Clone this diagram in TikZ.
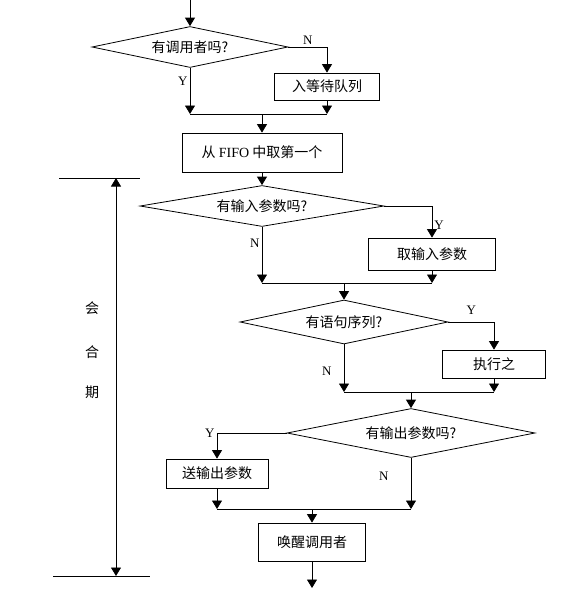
\documentclass[tikz,border=0pt]{standalone}
\usepackage{fontspec}
\setmainfont{Liberation Serif}
\newfontfamily\cjk{Noto Sans CJK SC}
\usetikzlibrary{shapes.geometric, arrows.meta, positioning}

\begin{document}
\begin{tikzpicture}[x=1pt, y=-1pt, line width=0.8pt,
    flow/.style={-{Triangle[width=10pt,length=8.5pt]}},
    proc/.style={draw, rectangle, inner sep=0pt, font=\cjk\fontsize{14}{16}\selectfont},
    cond/.style={draw, diamond, aspect=5, inner sep=0pt, font=\cjk\fontsize{14}{16}\selectfont},
    yn/.style={font=\fontsize{13}{15}\selectfont, inner sep=2pt}]
    \useasboundingbox (0,0) rectangle (583,598);

    % Steps
    \node[cond, minimum width=196pt, minimum height=41pt] (Q1) at (190,47) {有调用者吗?};
    \node[proc, minimum width=105pt, minimum height=27pt] (WQ) at (327,86.5) {入等待队列};
    \node[proc, minimum width=160pt, minimum height=39pt] (FF) at (262,152.5) {从 {\rmfamily FIFO} 中取第一个};
    \node[cond, minimum width=244pt, minimum height=41pt] (Q2) at (262,206) {有输入参数吗?};
    \node[proc, minimum width=127pt, minimum height=32pt] (IN) at (432,254) {取输入参数};
    \node[cond, minimum width=208pt, minimum height=44pt] (Q3) at (344,322) {有语句序列?};
    \node[proc, minimum width=103pt, minimum height=28pt] (EX) at (494,364) {执行之};
    \node[cond, minimum width=248pt, minimum height=49pt] (Q4) at (411,433) {有输出参数吗?};
    \node[proc, minimum width=102pt, minimum height=29pt] (OUT) at (217,473.5) {送输出参数};
    \node[proc, minimum width=107pt, minimum height=38pt] (WK) at (312,542) {唤醒调用者};

    % Join points
    \coordinate (top) at (190,0);
    \coordinate (m1) at (262,114);
    \coordinate (m2) at (344,283);
    \coordinate (m3) at (411,392);
    \coordinate (m4) at (312,509);
    \coordinate (bot) at (312,588);

    % Transitions
    \draw[flow] (top) -- (Q1.north);
    \draw[flow] (Q1.east) -| (WQ.north) node[yn, pos=0.25, above] {N};
    \draw[flow] (Q1.south) -- (Q1.south |- m1) node[yn, pos=0.28, left] {Y};
    \draw[flow] (WQ.south) -- (WQ.south |- m1);
    \draw (Q1.south |- m1) -- (WQ.south |- m1);
    \draw[flow] (m1) -- (FF.north);

    \draw[flow] (FF.south) -- (Q2.north);
    \draw[flow] (Q2.east) -| (IN.north) node[yn, pos=0.8, right] {Y};
    \draw[flow] (Q2.south) -- (Q2.south |- m2) node[yn, pos=0.29, left] {N};
    \draw[flow] (IN.south) -- (IN.south |- m2);
    \draw (Q2.south |- m2) -- (IN.south |- m2);
    \draw[flow] (m2) -- (Q3.north);

    \draw[flow] (Q3.east) -| (EX.north) node[yn, pos=0.25, above=5pt] {Y};
    \draw[flow] (Q3.south) -- (Q3.south |- m3) node[yn, pos=0.56, left=10pt] {N};
    \draw[flow] (EX.south) -- (EX.south |- m3);
    \draw (Q3.south |- m3) -- (EX.south |- m3);
    \draw[flow] (m3) -- (Q4.north);

    \draw[flow] (Q4.west) -| (OUT.north) node[yn, pos=0.5, left] {Y};
    \draw[flow] (Q4.south) -- (Q4.south |- m4) node[yn, pos=0.35, left=20pt] {N};
    \draw[flow] (OUT.south) -- (OUT.south |- m4);
    \draw (OUT.south |- m4) -- (Q4.south |- m4);
    \draw[flow] (m4) -- (WK.north);
    \draw[flow] (WK.south) -- (bot);

    % Session span
    \coordinate (pA) at (59,178);
    \coordinate (pB) at (140,178);
    \coordinate (pC) at (53,576);
    \coordinate (pD) at (150,576);
    \coordinate (pTop) at (116,178);
    \coordinate (pBot) at (116,576);
    \draw (pA) -- (pB);
    \draw (pC) -- (pD);
    \draw[{Triangle[width=10pt,length=8.5pt]}-{Triangle[width=10pt,length=8.5pt]}] (pTop) -- (pBot);
    \node[font=\cjk\fontsize{14}{16}\selectfont] (k1) at (92,308) {会};
    \node[font=\cjk\fontsize{14}{16}\selectfont] (k2) at (92,352) {合};
    \node[font=\cjk\fontsize{14}{16}\selectfont] (k3) at (92,392) {期};
\end{tikzpicture}
\end{document}
